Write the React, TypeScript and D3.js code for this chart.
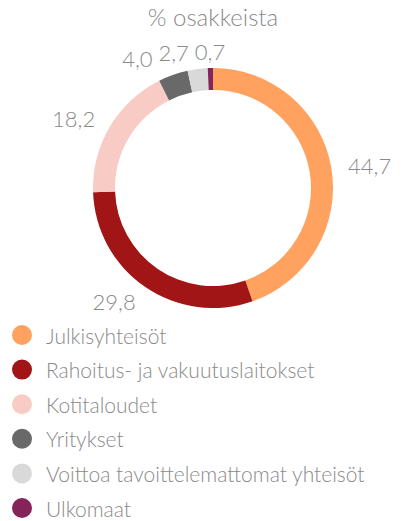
import React, { useMemo } from "react";
import * as d3 from "d3";

const categories = [
  "Julkisyhteisöt",
  "Rahoitus- ja vakuutuslaitokset",
  "Kotitaloudet",
  "Yritykset",
  "Voittoa tavoittelemattomat yhteisöt",
  "Ulkomaat",
];
const values = [44.7, 29.8, 18.2, 4.0, 2.7, 0.7];
const colors = ["#FFA15F", "#A11517", "#F9CBC5", "#696969", "#D9D9D9", "#85245A"];
const title = "% osakkeista";

const W = 414;
const H = 521;
const CX = 213;
const CY = 188;
const R_OUT = 120;
const R_IN = 98;
const LABEL_R = 137;
const FONT = "Lato, 'Open Sans', sans-serif";
const TEXT_COLOR = "#8a8a8a";

function measure(text: string, size: number): number {
  if (typeof document === "undefined") return text.length * size * 0.5;
  const c = document.createElement("canvas");
  const ctx = c.getContext("2d");
  if (!ctx) return text.length * size * 0.5;
  ctx.font = `300 ${size}px Lato`;
  return ctx.measureText(text).width;
}

const fmt = (v: number) => v.toFixed(1).replace(".", ",");

export default function App() {
  const pie = d3
    .pie<number>()
    .sort(null)
    .startAngle(0)
    .endAngle(2 * Math.PI)(values);
  const arc = d3.arc<d3.PieArcDatum<number>>().innerRadius(R_IN).outerRadius(R_OUT);

  const labels = useMemo(() => {
    const ls = pie.map((p, i) => {
      const a = (p.startAngle + p.endAngle) / 2;
      const s = Math.sin(a);
      const c = -Math.cos(a);
      const text = fmt(values[i]);
      const w = measure(text, 22);
      const px = CX + LABEL_R * s;
      const py = CY + LABEL_R * c;
      let left: number;
      if (s > 0.2) left = px;
      else if (s < -0.2) left = px - w;
      else left = px - w / 2;
      return { text, w, left, y: py, a, i };
    });
    // resolve overlaps for top cluster (left half near the top), from right to left
    const top = ls.filter((l) => l.y < CY - 100).sort((a, b) => b.a - a.a);
    for (let k = 1; k < top.length; k++) {
      const prev = top[k - 1];
      const cur = top[k];
      const maxRight = prev.left - 6;
      if (cur.left + cur.w > maxRight) cur.left = maxRight - cur.w;
    }
    return ls;
  }, []);

  const legendY0 = 335;
  const legendStep = 34.6;

  return (
    <svg
      width={W}
      height={H}
      style={{ position: "absolute", left: 0, top: 0, background: "#fff" }}
      fontFamily={FONT}
    >
      <text
        x={CX}
        y={26}
        textAnchor="middle"
        fontSize={24}
        fontWeight={300}
        fill={TEXT_COLOR}
      >
        {title}
      </text>
      <g>
        {pie.map((p, i) => (
          <path
            key={i}
            d={arc(p) || ""}
            transform={`translate(${CX},${CY})`}
            fill={colors[i]}
          />
        ))}
      </g>
      <g>
        {labels.map((l) => (
          <text
            key={l.i}
            x={l.left}
            y={l.y}
            dominantBaseline="central"
            fontSize={22}
            fontWeight={300}
            fill={TEXT_COLOR}
          >
            {l.text}
          </text>
        ))}
      </g>
      <g>
        {categories.map((c, i) => (
          <g key={c} transform={`translate(0,${legendY0 + i * legendStep})`}>
            <circle cx={22} cy={0} r={10} fill={colors[i]} />
            <text
              x={46}
              y={0}
              dominantBaseline="central"
              fontSize={21}
              fontWeight={300}
              fill={TEXT_COLOR}
            >
              {c}
            </text>
          </g>
        ))}
      </g>
    </svg>
  );
}
